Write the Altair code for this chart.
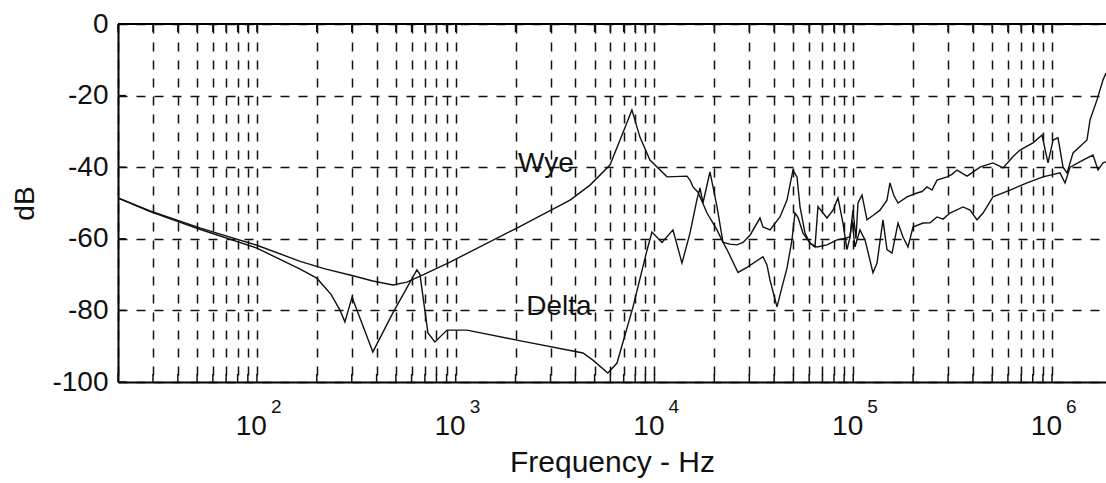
import altair as alt
import pandas as pd

# Measured transfer curves (frequency in Hz, level in dB)
wye_freq = [20, 29, 52, 100, 165, 220, 294, 383, 483, 568, 684, 936, 2030, 3760, 4740,
            5970, 6940, 7700, 8450, 9490, 11560, 14570, 15090, 15620, 16550, 17330,
            18380, 20630, 22120, 23980, 26010, 27880, 30240, 33950, 35150, 38120, 42800,
            46410, 49750, 52120, 53960, 57180, 60580, 65700, 73780, 82830, 88790,
            96300, 99700, 103200, 105650, 110700, 117300, 125700, 136300, 147800,
            153000, 160300, 168000, 186400, 209300, 221800, 234900, 249000, 263900,
            296300, 313900, 332700, 373700, 434300, 460200, 504800, 566900, 614900,
            636700, 690300, 802500, 890600, 954700, 1012000, 1072000, 1136000,
            1190000, 1276000, 1500000, 1553000, 1684000, 1806000, 1869000]
wye_db = [-48.6, -52.2, -57.0, -61.8, -66.3, -68.4, -70.1, -71.8, -72.9, -72.1, -70.1,
          -66.5, -57.0, -49.2, -45.0, -39.4, -30.4, -24.0, -31.6, -38.0, -42.7, -42.5,
          -43.6, -45.5, -47.0, -49.5, -52.8, -57.5, -61.0, -61.5, -61.7, -61.0, -59.0,
          -54.2, -56.7, -57.5, -53.9, -49.2, -40.8, -42.7, -51.0, -58.4, -61.2, -62.3,
          -61.7, -60.3, -60.0, -59.5, -52.0, -60.0, -50.0, -47.8, -54.7, -53.5, -52.0,
          -49.2, -44.4, -48.0, -50.0, -48.3, -47.2, -46.8, -45.5, -46.4, -43.6, -42.7,
          -42.0, -40.8, -42.5, -40.0, -39.5, -38.8, -40.2, -38.0, -37.0, -35.2, -33.2,
          -31.0, -38.8, -32.4, -31.8, -40.0, -41.6, -36.0, -32.4, -26.8, -21.2, -15.6,
          -13.7]

delta_freq = [20, 29, 52, 100, 165, 200, 236, 262, 277, 301, 383, 483, 638, 661, 725,
              786, 904, 1140, 2030, 4370, 4900, 5830, 6480, 7800, 9170, 9710, 10910,
              12390, 13750, 15090, 16360, 16940, 17540, 19020, 20630, 22120, 23170,
              26320, 29210, 35150, 36810, 38120, 41340, 43810, 46410, 49180, 50920,
              52720, 55870, 60580, 64190, 66460, 73780, 79070, 83800, 88790, 93010,
              96300, 98560, 102000, 108100, 114600, 121400, 125700, 131700, 141100,
              147800, 156700, 168000, 178000, 188600, 199800, 224400, 243400, 263900,
              282900, 306800, 356700, 386900, 419500, 449600, 504800, 614900, 748700,
              901000, 1097000, 1163000, 1232000, 1432000, 1608000, 1704000, 1806000,
              1869000]
delta_db = [-48.6, -52.4, -57.4, -62.6, -68.5, -71.0, -75.5, -80.0, -83.2, -76.3, -91.6,
            -80.7, -68.7, -70.0, -86.3, -88.8, -85.5, -85.5, -88.3, -91.9, -93.9, -97.5,
            -94.7, -79.0, -63.2, -58.1, -61.0, -57.5, -66.8, -58.4, -49.0, -45.8, -50.0,
            -41.3, -51.0, -61.0, -63.0, -69.4, -68.0, -65.0, -67.3, -71.5, -79.0, -73.5,
            -68.2, -60.3, -52.8, -54.0, -58.4, -61.2, -62.3, -51.0, -54.2, -52.0, -48.6,
            -55.6, -63.0, -59.6, -54.7, -62.3, -57.5, -60.3, -66.0, -69.5, -66.8, -54.7,
            -63.0, -64.0, -55.6, -59.5, -62.3, -56.7, -55.6, -55.5, -53.9, -54.5, -52.8,
            -51.1, -52.0, -54.7, -52.8, -48.3, -46.4, -44.4, -42.7, -41.6, -44.4, -40.0,
            -38.0, -36.6, -40.8, -38.8, -38.5]

# Axis ticks and labels
grid_freq = [m * 10 ** e for e in range(1, 7) for m in range(1, 10)
             if 20 <= m * 10 ** e <= 1_000_000]
grid_db = [-100, -80, -60, -40, -20, 0]
decades = [100, 1000, 10000, 100000, 1000000]
exponents = ["2", "3", "4", "5", "6"]

# Curve annotations
curve_names = ["Wye", "Delta"]
name_freq = [2844, 3307]
name_db = [-41.3, -81.3]

FONT = "Liberation Sans"
INK = "#111111"
W, H = 988, 358

x_scale = alt.Scale(type="log", domain=[20, 1869000], nice=False)
y_scale = alt.Scale(domain=[-100, 0], nice=False)

x_enc = alt.X(
    "freq:Q", scale=x_scale,
    axis=alt.Axis(
        values=grid_freq, labels=False, ticks=False, grid=True,
        gridDash=[9, 9], gridColor=INK, gridWidth=1.5,
        domainColor="#000000", domainWidth=2,
        title="Frequency - Hz", titleFont=FONT, titleFontSize=30,
        titleFontWeight="normal", titleColor=INK,
        titleBaseline="alphabetic", titleY=89,
    ),
)
y_enc = alt.Y(
    "db:Q", scale=y_scale,
    axis=alt.Axis(
        values=grid_db, ticks=False, grid=True, labelOverlap=False,
        labelExpr="toString(datum.value)",
        gridDash=[9, 9], gridColor=INK, gridWidth=1.5,
        domainColor="#000000", domainWidth=2,
        labelFont=FONT, labelFontSize=28, labelColor=INK, labelPadding=10,
        title="dB", titleFont=FONT, titleFontSize=28, titleFontWeight="normal",
        titleColor=INK, titleAngle=270, titleBaseline="alphabetic",
        titleX=-85, titleY=H / 2, titleAlign="center",
    ),
)

curves = pd.concat([
    pd.DataFrame({"freq": wye_freq, "db": wye_db, "series": "Wye"}),
    pd.DataFrame({"freq": delta_freq, "db": delta_db, "series": "Delta"}),
])

lines = alt.Chart(curves).mark_line(color=INK, strokeWidth=1.4, clip=True).encode(
    x=x_enc, y=y_enc, detail="series:N"
)

# Inward ticks along the frame
tick_x = pd.DataFrame({"freq": grid_freq})
tick_y = pd.DataFrame({"db": grid_db})
bottom_ticks = alt.Chart(tick_x).mark_rule(color=INK, strokeWidth=1.5).encode(
    x=x_enc, y=alt.value(H), y2=alt.value(H - 8)
)
top_ticks = alt.Chart(tick_x).mark_rule(color=INK, strokeWidth=1.5).encode(
    x=x_enc, y=alt.value(0), y2=alt.value(8)
)
left_ticks = alt.Chart(tick_y).mark_rule(color=INK, strokeWidth=1.5).encode(
    y=y_enc, x=alt.value(0), x2=alt.value(8)
)
top_border = alt.Chart(pd.DataFrame({"k": [0]})).mark_rule(
    color="#000000", strokeWidth=2
).encode(x=alt.value(0), x2=alt.value(W), y=alt.value(0))

# Decade labels written as 10 with a raised exponent
dec_df = pd.DataFrame({"freq": decades, "exp": exponents})
base_lbl = alt.Chart(dec_df).mark_text(
    text="10", align="right", baseline="alphabetic", dx=10,
    font=FONT, fontSize=28, color=INK,
).encode(x=x_enc, y=alt.value(411))
exp_lbl = alt.Chart(dec_df).mark_text(
    align="left", baseline="alphabetic", dx=14,
    font=FONT, fontSize=19, color=INK,
).encode(x=x_enc, y=alt.value(389), text="exp:N")

names = alt.Chart(
    pd.DataFrame({"freq": name_freq, "db": name_db, "name": curve_names})
).mark_text(
    align="center", baseline="alphabetic", font=FONT, fontSize=28, color=INK
).encode(x=x_enc, y=y_enc, text="name:N")

chart = alt.layer(
    lines, bottom_ticks, top_ticks, left_ticks, top_border, base_lbl, exp_lbl, names
).properties(
    width=W, height=H,
    padding={"left": 118, "top": 24, "right": 0, "bottom": 101},
    autosize=alt.AutoSizeParams(type="none"),
    background="white",
).configure_view(stroke=None)

chart.save("out.html", embed_options={"renderer": "svg", "actions": False})
